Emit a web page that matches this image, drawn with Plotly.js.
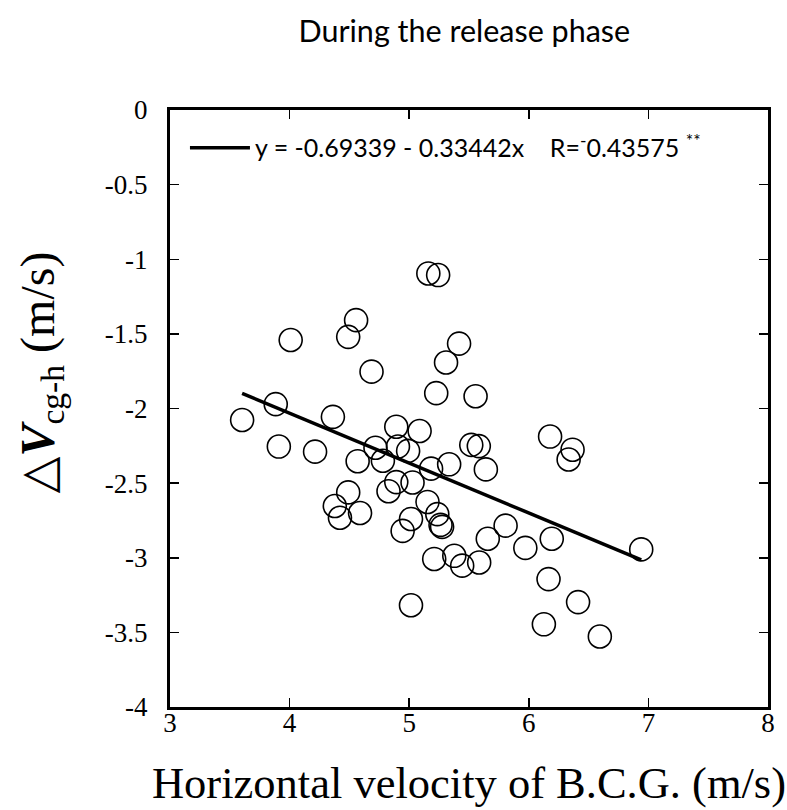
<!DOCTYPE html>
<html>
<head>
<meta charset="utf-8">
<script src="https://cdn.plot.ly/plotly-3.0.1.min.js"></script>
<style>html,body{margin:0;padding:0;background:#fff}#chart{width:787px;height:810px}</style>
</head>
<body>
<div id="chart"></div>
<script>
// Horizontal velocity of B.C.G. (m/s)
const xVel = [3.603, 3.884, 3.910, 4.009, 4.213, 4.362, 4.378, 4.421, 4.490, 4.556,
  4.490, 4.589, 4.569, 4.685, 4.718, 4.780, 4.827, 4.892, 4.892, 4.906,
  4.991, 4.945, 5.028, 5.015, 5.015, 5.087, 5.160, 5.242, 5.153, 5.183,
  5.226, 5.235, 5.262, 5.275, 5.209, 5.308, 5.417, 5.334, 5.377, 5.443,
  5.555, 5.519, 5.582, 5.641, 5.585, 5.657, 5.806, 5.971, 6.178, 6.192,
  6.165, 6.126, 6.366, 6.333, 6.412, 6.594, 6.940];
// ΔVcg-h (m/s)
const dVcg = [-2.077, -1.971, -2.255, -1.541, -2.289, -2.056, -2.653, -2.732, -1.520, -1.408,
  -2.562, -2.700, -2.353, -1.753, -2.263, -2.350, -2.554, -2.122, -2.493, -2.255,
  -2.284, -2.820, -2.496, -2.740, -3.318, -2.151, -1.095, -1.106, -2.626, -2.403,
  -1.897, -2.708, -2.780, -2.793, -3.008, -1.692, -1.565, -2.374, -2.987, -3.053,
  -1.918, -2.244, -2.252, -2.408, -3.032, -2.873, -2.785, -2.934, -2.188, -2.873,
  -3.143, -3.446, -2.276, -2.342, -3.297, -3.528, -2.944];
// regression: y = a + b x
const intercept = -0.69339;
const slope = -0.33442;
const rValue = '-0.43575';
const xTickVals = [3, 4, 5, 6, 7, 8];
const yTickVals = [0, -0.5, -1, -1.5, -2, -2.5, -3, -3.5, -4];
const yTickText = ['0', '-0.5', '-1', '-1.5', '-2', '-2.5', '-3', '-3.5', '-4'];

const xMin = Math.min(...xVel), xMax = Math.max(...xVel);
const fitX = [xMin, xMax];
const fitY = fitX.map(v => intercept + slope * v);

const serif = '"Liberation Serif", "DejaVu Serif", serif';
const sans = 'Lato, "Open Sans", sans-serif';

const traces = [
  {
    x: xVel, y: dVcg, type: 'scatter', mode: 'markers', showlegend: false,
    marker: {symbol: 'circle-open', size: 23, color: '#000', line: {width: 1.6, color: '#000'}},
    hoverinfo: 'x+y'
  },
  {
    x: fitX, y: fitY, type: 'scatter', mode: 'lines',
    name: 'y = ' + intercept + ' - ' + Math.abs(slope) + 'x\u00A0\u00A0\u00A0\u00A0R=<sup>-</sup>' + rValue.slice(1) + ' <sup>**</sup>',
    line: {color: '#000', width: 3.5}
  }
];

function axis(extra) {
  return Object.assign({
    showline: true, linecolor: '#000', linewidth: 3, mirror: 'ticks',
    ticks: 'inside', ticklen: 9, tickwidth: 1.5, tickcolor: '#000',
    showgrid: false, zeroline: false,
    tickfont: {family: serif, size: 27, color: '#000'}
  }, extra);
}

const layout = {
  width: 787, height: 810,
  margin: {l: 170, r: 19, t: 110, b: 103},
  paper_bgcolor: '#fff', plot_bgcolor: '#fff',
  title: {text: 'During the release phase', font: {family: sans, size: 30.5, color: '#000'},
          x: 0.59, xanchor: 'center', y: 0.961, yanchor: 'middle'},
  xaxis: axis({
    range: [3, 8], tickvals: xTickVals, ticktext: xTickVals.map(String),
    ticklabelstandoff: -10,
    title: {text: 'Horizontal velocity of B.C.G. (m/s)', font: {family: serif, size: 44.5, color: '#000'}, standoff: 30}
  }),
  yaxis: axis({
    range: [-4, 0], tickvals: yTickVals, ticktext: yTickText, ticklabelstandoff: 14
  }),
  showlegend: true,
  legend: {x: 0.025, y: 0.975, xanchor: 'left', yanchor: 'top', bgcolor: 'rgba(0,0,0,0)',
           font: {family: sans, size: 25, color: '#000'}, itemwidth: 60},
  annotations: [{
    text: '\u25B3<b><i>V</i></b><sub>cg-h</sub> (m/s)',
    xref: 'paper', yref: 'paper', x: -0.215, y: 0.561, xanchor: 'center', yanchor: 'middle',
    textangle: -90, showarrow: false, font: {family: serif, size: 48, color: '#000'}
  }]
};

Plotly.newPlot('chart', traces, layout, {displayModeBar: false, staticPlot: true});
</script>
</body>
</html>
